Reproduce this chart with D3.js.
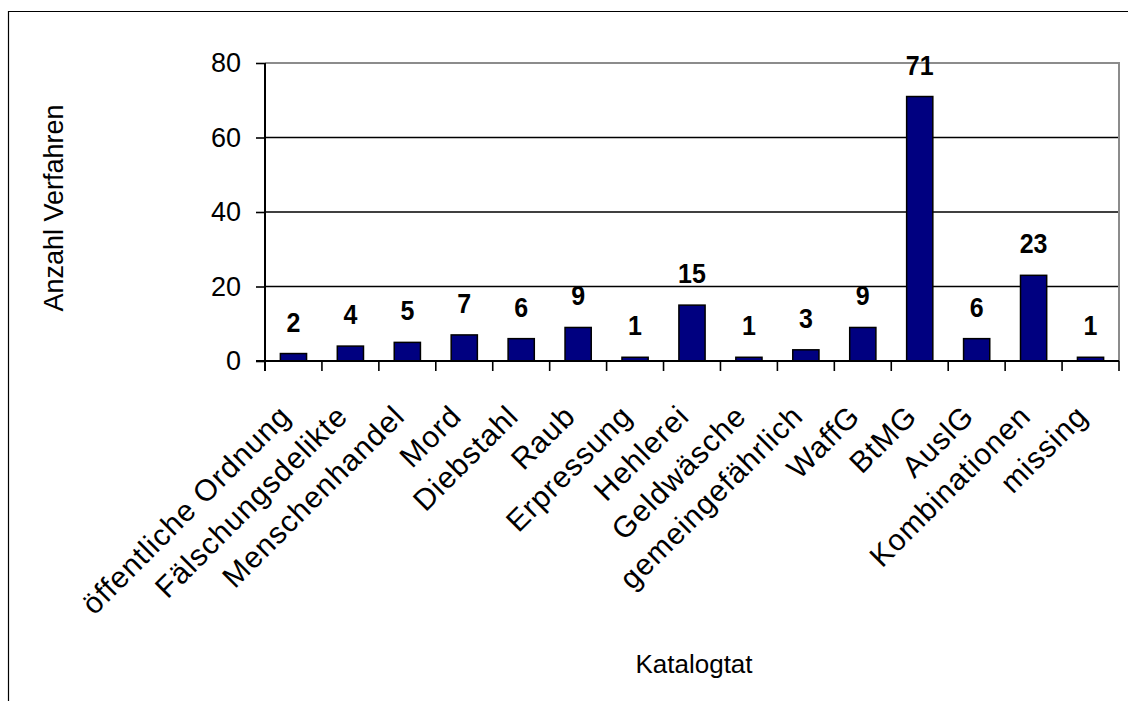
<!DOCTYPE html>
<html>
<head>
<meta charset="utf-8">
<script src="https://cdn.jsdelivr.net/npm/d3@7"></script>
<style>
  body { margin: 0; background: #fff; }
  text { font-family: "Liberation Sans", Arial, sans-serif; fill: #000; }
</style>
</head>
<body>
<svg id="chart" width="1128" height="701"></svg>
<script>
// data
const categories = ["öffentliche Ordnung", "Fälschungsdelikte", "Menschenhandel", "Mord", "Diebstahl",
  "Raub", "Erpressung", "Hehlerei", "Geldwäsche", "gemeingefährlich", "WaffG", "BtMG", "AuslG",
  "Kombinationen", "missing"]
const counts = [2, 4, 5, 7, 6, 9, 1, 15, 1, 3, 9, 71, 6, 23, 1]
const yTicks = [0, 20, 40, 60, 80]
const yTitle = "Anzahl Verfahren"
const xTitle = "Katalogtat"

const data = categories.map((c, i) => ({ cat: c, val: counts[i] }))

const svg = d3.select("#chart")

const plotLeft = 265, plotRight = 1119, plotTop = 63, plotBottom = 361

const x = d3.scaleBand().domain(categories).range([plotLeft, plotRight]).padding(0)
const y = d3.scaleLinear().domain([0, 80]).range([plotBottom, plotTop])

// outer frame (only left and top are inside the window)
svg.append("path")
  .attr("d", "M8.5,720 L8.5,11.5 L1140,11.5")
  .attr("fill", "none")
  .attr("stroke", "#000")
  .attr("stroke-width", 1.2)

// grid lines
svg.append("g")
  .selectAll("line")
  .data(yTicks.filter(t => t > 0 && t < 80))
  .join("line")
  .attr("x1", plotLeft).attr("x2", plotRight)
  .attr("y1", d => y(d)).attr("y2", d => y(d))
  .attr("stroke", "#000")
  .attr("stroke-width", 1.6)

// grey top / right border of the plot area
svg.append("path")
  .attr("d", `M${plotLeft},${y(80)} L${plotRight},${y(80)} L${plotRight},${y(0)}`)
  .attr("fill", "none")
  .attr("stroke", "#8c8c8c")
  .attr("stroke-width", 2)

// bars
const bw = x.bandwidth() * 0.46
svg.append("g")
  .selectAll("rect")
  .data(data)
  .join("rect")
  .attr("x", d => x(d.cat) + (x.bandwidth() - bw) / 2)
  .attr("y", d => y(d.val))
  .attr("width", bw)
  .attr("height", d => y(0) - y(d.val))
  .attr("fill", "#000080")
  .attr("stroke", "#000")
  .attr("stroke-width", 1.5)

// value labels (slightly tall, like the original)
svg.append("g")
  .selectAll("text")
  .data(data)
  .join("text")
  .attr("transform", d => `translate(${x(d.cat) + x.bandwidth() / 2},${y(d.val) - 22}) scale(1,1.12)`)
  .attr("text-anchor", "middle")
  .style("font-size", "25px")
  .style("font-weight", "bold")
  .text(d => d.val)

// y axis
const yAxis = svg.append("g")
  .attr("transform", `translate(${plotLeft},0)`)
  .call(d3.axisLeft(y).tickValues(yTicks).tickSize(9).tickPadding(15).tickSizeOuter(0))
yAxis.select(".domain").remove()
yAxis.selectAll(".tick line").attr("stroke", "#000").attr("stroke-width", 1.6)
yAxis.selectAll(".tick text")
  .style("font-size", "27px")
  .style("font-family", "'Liberation Sans', Arial, sans-serif")
  .attr("fill", "#000")
svg.append("line")
  .attr("x1", plotLeft).attr("x2", plotLeft)
  .attr("y1", y(80)).attr("y2", y(0) + 10)
  .attr("stroke", "#000").attr("stroke-width", 2)

// x axis line and boundary ticks
svg.append("line")
  .attr("x1", plotLeft - 9).attr("x2", plotRight)
  .attr("y1", y(0)).attr("y2", y(0))
  .attr("stroke", "#000").attr("stroke-width", 2)
const bounds = categories.map(c => x(c)).concat([plotRight])
svg.append("g")
  .selectAll("line")
  .data(bounds)
  .join("line")
  .attr("x1", d => d).attr("x2", d => d)
  .attr("y1", y(0)).attr("y2", y(0) + 10)
  .attr("stroke", "#000").attr("stroke-width", 1.6)

// category labels, rotated
svg.append("g")
  .selectAll("text")
  .data(categories)
  .join("text")
  .attr("transform", d => `translate(${x(d) + x.bandwidth() / 2 - 1},418) rotate(-45)`)
  .attr("text-anchor", "end")
  .style("font-size", "30px")
  .style("letter-spacing", "1px")
  .text(d => d)

// axis titles
svg.append("text")
  .attr("transform", "translate(63,208) rotate(-90)")
  .attr("text-anchor", "middle")
  .style("font-size", "27px")
  .text(yTitle)

svg.append("text")
  .attr("x", 694)
  .attr("y", 673)
  .attr("text-anchor", "middle")
  .style("font-size", "26px")
  .text(xTitle)
</script>
</body>
</html>
